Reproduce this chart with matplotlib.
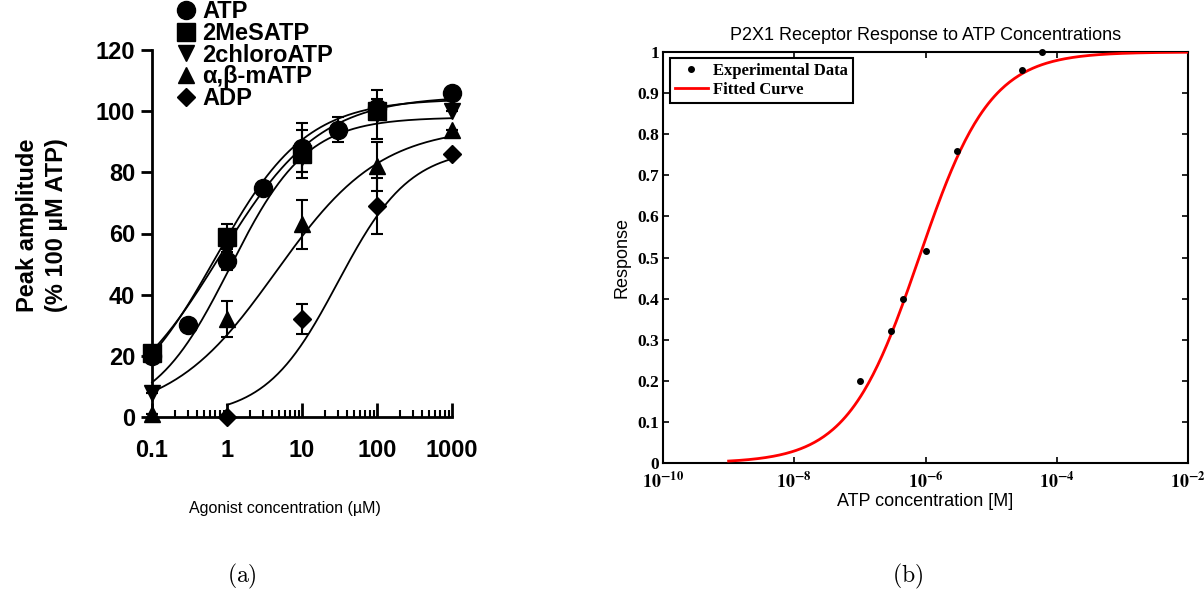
import numpy as np
import matplotlib
matplotlib.use('Agg')
import matplotlib.pyplot as plt
from matplotlib.ticker import FixedLocator, NullLocator, LogLocator

plt.rcParams['mathtext.fontset'] = 'stix'

# ---------- panel (a): agonist dose-response ----------
agonists = ['ATP', '2MeSATP', '2chloroATP', 'α,β-mATP', 'ADP']
markers_a = ['o', 's', 'v', '^', 'D']

atp_conc = [0.1, 0.3, 1, 3, 10, 30, 100, 1000]
atp_resp = [20, 30, 51, 75, 88, 94, 101, 106]
atp_err = [0, 0, 3, 2, 8, 4, 3, 0]

mes_conc = [0.1, 1, 10, 100]
mes_resp = [21, 59, 86, 100]
mes_err = [0, 4, 8, 3]

chl_conc = [0.1, 1, 10, 100, 1000]
chl_resp = [8, 55, 85, 99, 100]
chl_err = [0, 5, 5, 8, 0]

mat_conc = [0.1, 1, 10, 100, 1000]
mat_resp = [1, 32, 63, 82, 94]
mat_err = [0, 6, 8, 8, 0]

adp_conc = [1, 10, 100, 1000]
adp_resp = [0, 32, 69, 86]
adp_err = [0, 5, 9, 0]

# fitted Hill curves: (top, EC50 in uM, slope, start concentration)
fit_top = [105, 104, 98, 95, 88]
fit_ec50 = [0.8, 0.7, 1.1, 4.5, 30]
fit_slope = [0.65, 0.72, 0.85, 0.62, 0.9]
fit_start = [0.1, 0.1, 0.1, 0.1, 1.0]

# ---------- panel (b): P2X1 response to ATP ----------
atp_molar = [1e-7, 3e-7, 4.5e-7, 1e-6, 3e-6, 3e-5, 6e-5]
response = [0.20, 0.32, 0.40, 0.515, 0.76, 0.955, 1.0]
p2x1_ec50 = 8e-7
p2x1_slope = 0.8

sans = 'Liberation Sans'
serif = 'Liberation Serif'

fig = plt.figure(figsize=(12.04, 5.94), dpi=100)

# ===== (a) =====
ax_a = fig.add_axes([152/1204, 1-417/594, 300/1204, 367/594])
ax_a.set_xscale('log')

data_a = [(atp_conc, atp_resp, atp_err), (mes_conc, mes_resp, mes_err),
          (chl_conc, chl_resp, chl_err), (mat_conc, mat_resp, mat_err),
          (adp_conc, adp_resp, adp_err)]

handles = []
for i, (c, r, e) in enumerate(data_a):
    xx = np.logspace(np.log10(fit_start[i]), 3, 200)
    yy = fit_top[i] / (1 + (fit_ec50[i] / xx) ** fit_slope[i])
    ax_a.plot(xx, yy, color='k', lw=1.3, clip_on=False, zorder=2)
    ax_a.errorbar(c, r, yerr=e, fmt='none', ecolor='k', elinewidth=1.5,
                  capsize=4, capthick=1.5, clip_on=False, zorder=3)
    ms = 13 if markers_a[i] in ('o', 's') else 11
    if markers_a[i] == 'D':
        ms = 9.5
    h, = ax_a.plot(c, r, ls='none', marker=markers_a[i], color='k', ms=ms,
                   clip_on=False, zorder=4, label=agonists[i])
    handles.append(h)

ax_a.set_xlim(0.1, 1000)
ax_a.set_ylim(0, 120)
ax_a.spines['top'].set_visible(False)
ax_a.spines['right'].set_visible(False)
ax_a.spines['left'].set_linewidth(2)
ax_a.spines['bottom'].set_linewidth(2)
ax_a.set_yticks([0, 20, 40, 60, 80, 100, 120])
ax_a.tick_params(axis='y', direction='out', length=8, width=2, pad=4)
ax_a.xaxis.set_major_locator(FixedLocator([0.1, 1, 10, 100, 1000]))
ax_a.xaxis.set_minor_locator(LogLocator(base=10, subs=np.arange(2, 10)))
ax_a.set_xticklabels(['0.1', '1', '10', '100', '1000'])
ax_a.tick_params(axis='x', which='major', direction='in', length=10, width=2, pad=16)
ax_a.tick_params(axis='x', which='minor', direction='in', length=5, width=1.5)
for lab in ax_a.get_xticklabels() + ax_a.get_yticklabels():
    lab.set_fontfamily(sans)
    lab.set_fontweight('bold')
    lab.set_fontsize(17)

fig.text(42/1204, 1-225/594, 'Peak amplitude\n(% 100 µM ATP)', rotation=90,
         ha='center', va='center', family=sans, weight='bold', fontsize=17,
         linespacing=1.35)
fig.text(285/1204, 1-508/594, 'Agonist concentration (µM)', ha='center', va='center',
         family=sans, fontsize=11.5)

fig.legend(handles=handles, loc='upper left', bbox_to_anchor=(174/1204, 1.0),
           frameon=False, borderpad=0, borderaxespad=0, handlelength=1.0,
           handletextpad=0.2, labelspacing=-0.05,
           prop={'family': sans, 'weight': 'bold', 'size': 17})

# ===== (b) =====
ax_b = fig.add_axes([663/1204, 1-463/594, 525/1204, 411/594])
ax_b.set_xscale('log')
xfit = np.logspace(-9, -2, 300)
yfit = 1 / (1 + (p2x1_ec50 / xfit) ** p2x1_slope)
ax_b.plot(atp_molar, response, 'k.', ms=8, label='Experimental Data',
          clip_on=False, zorder=4)
ax_b.plot(xfit, yfit, color='red', lw=2, label='Fitted Curve', zorder=3)
ax_b.set_xlim(1e-10, 1e-2)
ax_b.set_ylim(0, 1)
for s in ax_b.spines.values():
    s.set_linewidth(1.5)
ax_b.xaxis.set_major_locator(FixedLocator([1e-10, 1e-8, 1e-6, 1e-4, 1e-2]))
ax_b.xaxis.set_minor_locator(NullLocator())
ax_b.set_xticklabels([r'$\mathbf{10^{-10}}$', r'$\mathbf{10^{-8}}$', r'$\mathbf{10^{-6}}$',
                      r'$\mathbf{10^{-4}}$', r'$\mathbf{10^{-2}}$'])
ax_b.set_yticks(np.round(np.arange(0, 1.01, 0.1), 1))
ax_b.set_yticklabels(['0', '0.1', '0.2', '0.3', '0.4', '0.5', '0.6', '0.7', '0.8', '0.9', '1'])
ax_b.tick_params(direction='in', length=4, width=1.2, top=True, right=True,
                 labelsize=12.5, pad=3)
ax_b.tick_params(axis='x', pad=6, labelsize=13)
for lab in ax_b.get_yticklabels():
    lab.set_fontfamily(serif)
    lab.set_fontweight('bold')
ax_b.set_title('P2X1 Receptor Response to ATP Concentrations', family=sans,
               fontsize=13, pad=9)
ax_b.set_xlabel('ATP concentration [M]', family=sans, fontsize=13, labelpad=1)
ax_b.set_ylabel('Response', family=sans, fontsize=13, labelpad=5)
leg = ax_b.legend(loc='upper left', bbox_to_anchor=(0.013, 0.985), borderaxespad=0,
                  fancybox=False, framealpha=1, edgecolor='k', handlelength=2.0,
                  handletextpad=0.3, labelspacing=0.15, borderpad=0.3,
                  prop={'family': serif, 'weight': 'bold', 'size': 12})
leg.get_frame().set_linewidth(1.5)

# subfigure captions
fig.text(242/1204, 1-576/594, r'$\mathrm{(a)}$', ha='center', va='center',
         fontsize=17, math_fontfamily='cm')
fig.text(908/1204, 1-576/594, r'$\mathrm{(b)}$', ha='center', va='center',
         fontsize=17, math_fontfamily='cm')

fig.savefig('out.png', dpi=100)
